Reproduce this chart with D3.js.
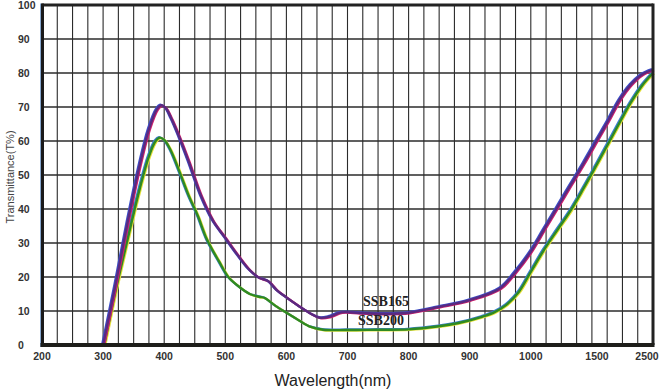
<!DOCTYPE html>
<html><head><meta charset="utf-8">
<script src="https://cdn.jsdelivr.net/npm/d3@7"></script>
<style>body{margin:0;background:#fff}svg{display:block}</style>
</head><body><svg id="c" width="660" height="390"></svg>
<script>
// ---- data ----
const xTickValues = [200,300,400,500,600,700,800,900,1000,1500,2500];
const yTickValues = [0,10,20,30,40,50,60,70,80,90,100];
const seriesNames = ["SSB165","SSB200"];
const wavelengths165 = [300,320,340,360,375,388,395,402,412,425,440,460,480,500,520,540,555,570,585,600,620,640,655,670,690,720,760,800,850,900,950,975,1000,1100,1200,1300,1400,1500,1700,1900,2100,2300,2500];
const values165 =      [0,17.5,36,53,63.5,69.3,70.5,69.8,66.5,61,54,44,36.5,31.5,26.5,22,19.8,18.8,16,14,11.5,9.2,8,8.3,9.6,9.4,9.2,9.5,11.2,13.2,16.7,21.5,27.5,34,40.5,47,53.5,60.3,66,72,76.5,79.5,81];
const wavelengths200 = [302,320,340,360,375,386,393,400,410,425,440,455,470,490,505,520,540,555,565,580,600,620,640,660,700,750,800,850,880,920,940,960,980,1000,1100,1200,1300,1400,1500,1700,1900,2100,2300,2500];
const values200 =      [0,15.5,31,46,55.5,60,61,60.3,57.5,51,44,38,31,24.5,20,17.5,15,14.2,13.8,11.8,9.5,7.3,5.3,4.5,4.4,4.5,4.6,5.5,6.4,8.3,9.6,11.8,15.5,21.5,28,33.8,39.5,46.2,53.2,59.2,65.3,71.2,76.2,80];
const gridCount = 40;

// ---- layout ----
const svg = d3.select("#c");
const X0 = 42, X1 = 653, Ytop = 5, Ybot = 345;
const x = d3.scaleLinear().domain([200,1000,1500,2500]).range([X0, X0 + 32*(X1-X0)/40, 597, X1]);
const y = d3.scaleLinear().domain([0,100]).range([Ybot, Ytop]);
const gridScale = d3.scaleLinear().domain([0,gridCount]).range([X0, X1]);

const g = svg.append("g");
// vertical grid
g.selectAll("line.vg").data(d3.range(1,gridCount)).join("line")
  .attr("x1", d=>gridScale(d)).attr("x2", d=>gridScale(d))
  .attr("y1", Ytop).attr("y2", Ybot)
  .attr("stroke", "#2b2b2b").attr("stroke-width", 1.1);
// horizontal grid
g.selectAll("line.hg").data(yTickValues.slice(1,-1)).join("line")
  .attr("x1", X0).attr("x2", X1)
  .attr("y1", d=>y(d)).attr("y2", d=>y(d))
  .attr("stroke", "#2b2b2b").attr("stroke-width", 1.3);

// curves
const line = d3.line().x(d=>x(d[0])).y(d=>y(d[1])).curve(d3.curveCatmullRom.alpha(0.5));
const d165 = wavelengths165.map((w,i)=>[w, values165[i]]);
const d200 = wavelengths200.map((w,i)=>[w, values200[i]]);
function drawCurve(data, c1, c2, cMain){
  g.append("path").attr("d", line(data)).attr("fill","none").attr("stroke", c1)
    .attr("stroke-width", 2.2).attr("transform","translate(-1,-0.6)");
  g.append("path").attr("d", line(data)).attr("fill","none").attr("stroke", c2)
    .attr("stroke-width", 2.2).attr("transform","translate(1,0.6)");
  g.append("path").attr("d", line(data)).attr("fill","none").attr("stroke", cMain)
    .attr("stroke-width", 2.4).attr("stroke-linejoin","round");
}
drawCurve(d200, "#3a7fd0", "#e8e23a", "#2f8a22");
drawCurve(d165, "#3a4fc8", "#d0206a", "#5a2a80");

// frame
g.append("line").attr("x1",X0).attr("x2",X1).attr("y1",Ytop).attr("y2",Ytop).attr("stroke","#222").attr("stroke-width",3);
g.append("line").attr("x1",X1).attr("x2",X1).attr("y1",Ytop-1.5).attr("y2",Ybot).attr("stroke","#222").attr("stroke-width",3);
g.append("line").attr("x1",X0-1).attr("x2",X0-1).attr("y1",Ytop-1.5).attr("y2",Ybot+2).attr("stroke","#3a6fb0").attr("stroke-width",1.2);
g.append("line").attr("x1",X0+0.5).attr("x2",X0+0.5).attr("y1",Ytop-1.5).attr("y2",Ybot+2).attr("stroke","#1a1a1a").attr("stroke-width",3);
g.append("line").attr("x1",X0-1.5).attr("x2",X1+1.5).attr("y1",Ybot).attr("y2",Ybot).attr("stroke","#1e1e1a").attr("stroke-width",4);

// tick labels
const font = "'Liberation Sans', Arial, sans-serif";
svg.selectAll("text.yt").data(yTickValues).join("text")
  .attr("x", 18).attr("y", d=>y(d)+3.8)
  .attr("font-family", font).attr("font-size", 10.5).attr("font-weight","bold")
  .attr("fill","#333").text(d=>d);
svg.selectAll("text.xt").data(xTickValues).join("text")
  .attr("x", d=>Math.min(x(d), 647)).attr("y", 360)
  .attr("text-anchor","middle")
  .attr("font-family", font).attr("font-size", 10.5).attr("font-weight","bold")
  .attr("fill","#333").text(d=>d);

// axis titles
svg.append("text").attr("x", 333).attr("y", 386).attr("text-anchor","middle")
  .attr("font-family", font).attr("font-size", 16).attr("fill","#222")
  .text("Wavelength(nm)");
svg.append("text").attr("transform","translate(14,177) rotate(-90)").attr("text-anchor","middle")
  .attr("font-family", font).attr("font-size", 11).attr("fill","#444")
  .text("Transmittance(T%)");

// series labels
const labelPos = [[386, 306],[381, 325]];
svg.selectAll("text.sl").data(seriesNames).join("text")
  .attr("x", (d,i)=>labelPos[i][0]).attr("y", (d,i)=>labelPos[i][1])
  .attr("text-anchor","middle")
  .attr("font-family","'Liberation Serif', 'DejaVu Serif', serif").attr("font-size", 14).attr("font-weight","bold")
  .attr("fill","#222").text(d=>d);
</script></body></html>
